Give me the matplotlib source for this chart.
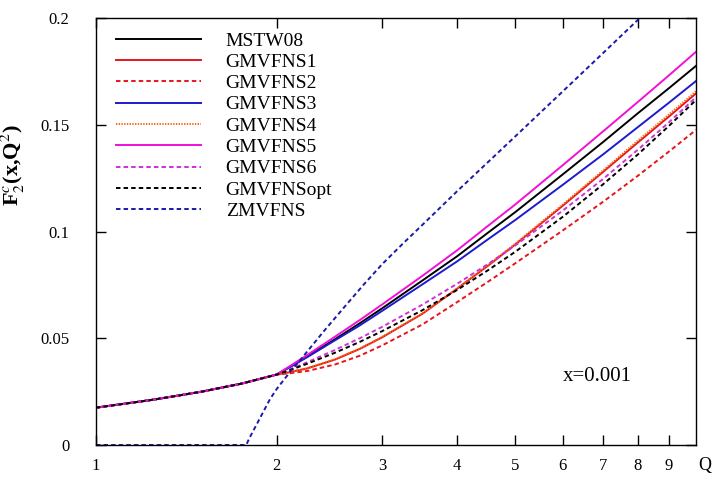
import numpy as np
import matplotlib
matplotlib.use("Agg")
import matplotlib.pyplot as plt
from matplotlib.ticker import FixedLocator, FixedFormatter, NullLocator

# common low-Q part (all GM-VFNS curves and MSTW08 coincide here)
q_low = [1.0, 1.25, 1.5, 1.75, 2.0]
f2_low = [0.0175, 0.0213, 0.0250, 0.0288, 0.0330]

q_high = [2.1, 2.25, 2.5, 2.75, 3.0, 3.5, 4.0, 4.5, 5.0, 6.0, 7.0, 8.0, 9.0, 10.0]
mstw08 = [0.0365, 0.0416, 0.0495, 0.0570, 0.0641, 0.0771, 0.0885, 0.0995,
          0.1092, 0.1269, 0.1420, 0.1555, 0.1671, 0.1777]
gmvfns1 = [0.0341, 0.0359, 0.0400, 0.0450, 0.0505, 0.0615, 0.0733, 0.0840,
           0.0940, 0.1122, 0.1280, 0.1418, 0.1538, 0.1648]
gmvfns2 = [0.0336, 0.0347, 0.0377, 0.0418, 0.0467, 0.0565, 0.0670, 0.0765,
           0.0852, 0.1006, 0.1140, 0.1262, 0.1374, 0.1477]
gmvfns3 = [0.0363, 0.0412, 0.0490, 0.0560, 0.0629, 0.0753, 0.0861, 0.0964,
           0.1055, 0.1220, 0.1362, 0.1490, 0.1603, 0.1706]
gmvfns4 = [0.0341, 0.0360, 0.0401, 0.0452, 0.0507, 0.0617, 0.0735, 0.0843,
           0.0944, 0.1128, 0.1287, 0.1427, 0.1548, 0.1658]
gmvfns5 = [0.0368, 0.0422, 0.0507, 0.0585, 0.0659, 0.0793, 0.0913, 0.1027,
           0.1128, 0.1312, 0.1470, 0.1608, 0.1731, 0.1843]
gmvfns6 = [0.0353, 0.0388, 0.0445, 0.0500, 0.0554, 0.0658, 0.0756, 0.0848,
           0.0936, 0.1099, 0.1247, 0.1384, 0.1511, 0.1630]
gmvfns_opt = [0.0350, 0.0381, 0.0432, 0.0483, 0.0534, 0.0632, 0.0727, 0.0819,
              0.0906, 0.1070, 0.1222, 0.1362, 0.1494, 0.1617]

q_zm = [1.0, 1.78, 1.8, 1.9, 1.95, 2.0, 2.1, 2.2, 2.4, 2.6, 2.8, 3.0, 3.25,
        3.5, 4.0, 5.0, 6.0, 7.0, 8.05]
zmvfns = [0.0, 0.0, 0.003, 0.0155, 0.0215, 0.0262, 0.0338, 0.0405, 0.0535,
          0.065, 0.0755, 0.0848, 0.0945, 0.1032, 0.119, 0.1447, 0.1658,
          0.1837, 0.2]

x_ticks = [1, 2, 3, 4, 5, 6, 7, 8, 9]
y_ticks = [0, 0.05, 0.1, 0.15, 0.2]
y_tick_labels = ["0", "0.05", "0.1", "0.15", "0.2"]

plt.rcParams['font.family'] = ['Liberation Serif', 'DejaVu Serif']
plt.rcParams['mathtext.fontset'] = 'stix'


def full_curve(values):
    return q_low + q_high, f2_low + values


def main():
    fig = plt.figure(figsize=(7.13, 4.8), dpi=100)
    ax = fig.add_axes([0.1346, 0.0729, 0.8416, 0.889])

    lw = 1.4
    dash = (2.3, 1.6)
    curves = [
        ("MSTW08", mstw08, "black", "-"),
        ("GMVFNS1", gmvfns1, "#e8141c", "-"),
        ("GMVFNS2", gmvfns2, "#e8141c", dash),
        ("GMVFNS3", gmvfns3, "#1c1ccc", "-"),
        ("GMVFNS4", gmvfns4, "#f26a10", (0.7, 0.7)),
        ("GMVFNS5", gmvfns5, "#f010d8", "-"),
        ("GMVFNS6", gmvfns6, "#d030d8", dash),
        ("GMVFNSopt", gmvfns_opt, "black", dash),
    ]
    for label, vals, color, style in curves:
        q, f2 = full_curve(vals)
        if isinstance(style, tuple):
            ax.plot(q, f2, color=color, lw=lw, dashes=style, label=label)
        else:
            ax.plot(q, f2, color=color, lw=lw, ls=style, label=label)
    ax.plot(q_zm, zmvfns, color="#1a1aa8", lw=lw, dashes=dash, label="ZMVFNS")

    ax.set_xscale("log")
    ax.set_xlim(1, 10)
    ax.set_ylim(0, 0.2)
    ax.xaxis.set_major_locator(FixedLocator(x_ticks))
    ax.xaxis.set_major_formatter(FixedFormatter([str(t) for t in x_ticks]))
    ax.xaxis.set_minor_locator(NullLocator())
    ax.yaxis.set_major_locator(FixedLocator(y_ticks))
    ax.yaxis.set_major_formatter(FixedFormatter(y_tick_labels))

    ax.tick_params(axis="both", which="both", direction="in", length=7,
                   width=1, top=True, right=True, labelsize=12)
    ax.tick_params(axis="x", pad=9)
    ax.tick_params(axis="y", pad=19)
    for s in ax.spines.values():
        s.set_linewidth(1)

    ax.set_xlabel("Q", fontsize=13)
    ax.xaxis.set_label_coords(1.015, -0.049)
    ax.xaxis.label.set_va("center")
    ax.set_ylabel(r"F$_2^c$(x,Q$^2$)", fontsize=16, fontweight="bold")
    ax.yaxis.set_label_coords(-0.115, 0.655)

    ax.text(6.0, 0.030, "x=0.001", fontsize=15, ha="left", va="baseline")

    ax.legend(loc="upper left", bbox_to_anchor=(0.033, 0.968), frameon=False,
              fontsize=14, handlelength=4.4, handletextpad=1.25,
              labelspacing=0.19, borderpad=0, borderaxespad=0)

    fig.savefig("out.png", dpi=100)


if __name__ == "__main__":
    main()
